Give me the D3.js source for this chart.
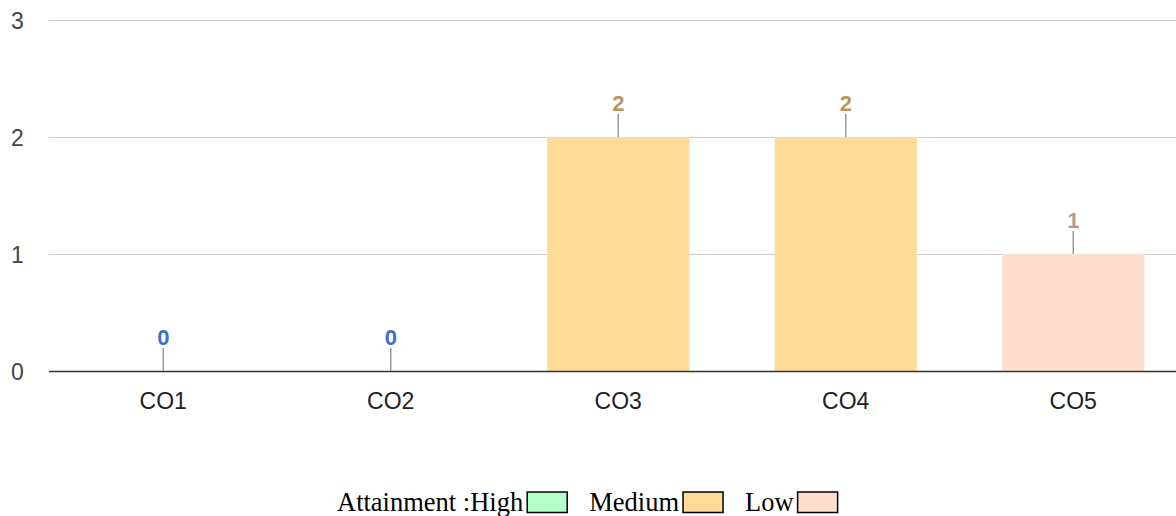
<!DOCTYPE html>
<html>
<head>
<meta charset="utf-8">
<script src="https://cdn.jsdelivr.net/npm/d3@7"></script>
<style>
  body { margin: 0; background: #fff; }
  svg { display: block; }
</style>
</head>
<body>
<div id="chart"></div>
<script>
// Chart data.
var categories = ['CO1', 'CO2', 'CO3', 'CO4', 'CO5'];
var values = [0, 0, 2, 2, 1];
var levels = ['None', 'None', 'Medium', 'Medium', 'Low'];
var yTicks = [0, 1, 2, 3];
var legendItems = ['High', 'Medium', 'Low'];

var fillByLevel = { High: '#b3fecb', Medium: '#fedb98', Low: '#fedecf', None: '#3366cc' };
var labelByLevel = { High: '#6fae85', Medium: '#b9965f', Low: '#b89a8d', None: '#3a6fd6' };

var width = 1176, height = 516;
var margin = { top: 20, left: 49 };
var sans = 'Arial, "Liberation Sans", sans-serif';

var svg = d3.select('#chart').append('svg')
  .attr('width', width)
  .attr('height', height);

var x = d3.scaleBand()
  .domain(categories)
  .range([49.5, 49.5 + 5 * 227.5])
  .paddingInner(0.375)
  .paddingOuter(0.1875);

var y = d3.scaleLinear()
  .domain([0, 3])
  .range([371, margin.top]);

// Gridlines.
svg.append('g')
  .selectAll('line')
  .data(yTicks.filter(function(d) { return d > 0; }))
  .join('line')
  .attr('x1', margin.left).attr('x2', width)
  .attr('y1', function(d) { return y(d) + 0.5; })
  .attr('y2', function(d) { return y(d) + 0.5; })
  .attr('stroke', '#cccccc')
  .attr('stroke-width', 1);

// Y tick labels.
svg.append('g')
  .selectAll('text')
  .data(yTicks)
  .join('text')
  .attr('x', 17.5)
  .attr('y', function(d) { return y(d) + 9; })
  .attr('text-anchor', 'middle')
  .attr('font-family', sans)
  .attr('font-size', 23)
  .attr('fill', '#444')
  .text(function(d) { return d; });

// Bars.
svg.append('g')
  .selectAll('rect')
  .data(values)
  .join('rect')
  .attr('x', function(d, i) { return x(categories[i]); })
  .attr('width', x.bandwidth())
  .attr('y', function(d) { return y(d); })
  .attr('height', function(d) { return y(0) - y(d); })
  .attr('fill', function(d, i) { return fillByLevel[levels[i]]; });

// Baseline.
svg.append('line')
  .attr('x1', margin.left).attr('x2', width)
  .attr('y1', y(0) + 0.5).attr('y2', y(0) + 0.5)
  .attr('stroke', '#333')
  .attr('stroke-width', 1.5);

// Annotation stems and labels.
var ann = svg.append('g');
ann.selectAll('line')
  .data(values)
  .join('line')
  .attr('x1', function(d, i) { return x(categories[i]) + x.bandwidth() / 2; })
  .attr('x2', function(d, i) { return x(categories[i]) + x.bandwidth() / 2; })
  .attr('y1', function(d) { return y(d); })
  .attr('y2', function(d) { return y(d) - 23; })
  .attr('stroke', '#999')
  .attr('stroke-width', 1.5);

ann.selectAll('text')
  .data(values)
  .join('text')
  .attr('x', function(d, i) { return x(categories[i]) + x.bandwidth() / 2; })
  .attr('y', function(d) { return y(d) - 26.5; })
  .attr('text-anchor', 'middle')
  .attr('font-family', sans)
  .attr('font-weight', 'bold')
  .attr('font-size', 22)
  .attr('fill', function(d, i) { return labelByLevel[levels[i]]; })
  .text(function(d) { return d; });

// X labels.
svg.append('g')
  .selectAll('text')
  .data(categories)
  .join('text')
  .attr('x', function(d) { return x(d) + x.bandwidth() / 2; })
  .attr('y', 409)
  .attr('text-anchor', 'middle')
  .attr('font-family', sans)
  .attr('font-size', 23)
  .attr('fill', '#222')
  .text(function(d) { return d; });

// Legend.
var legend = svg.append('g')
  .attr('font-family', '"Liberation Serif", "Times New Roman", serif')
  .attr('font-size', 26.5)
  .attr('fill', '#000');

var lx = 337, ly = 511;
legendItems.forEach(function(item, i) {
  var label = (i === 0 ? 'Attainment :' : '') + item;
  var t = legend.append('text')
    .attr('x', lx)
    .attr('y', ly)
    .text(label);
  var w = t.node().getComputedTextLength();
  legend.append('rect')
    .attr('x', lx + w + 4)
    .attr('y', 492)
    .attr('width', 40)
    .attr('height', 20.5)
    .attr('fill', fillByLevel[item])
    .attr('stroke', '#000')
    .attr('stroke-width', 1.5);
  lx = lx + w + 4 + 40 + 22;
});
</script>
</body>
</html>
